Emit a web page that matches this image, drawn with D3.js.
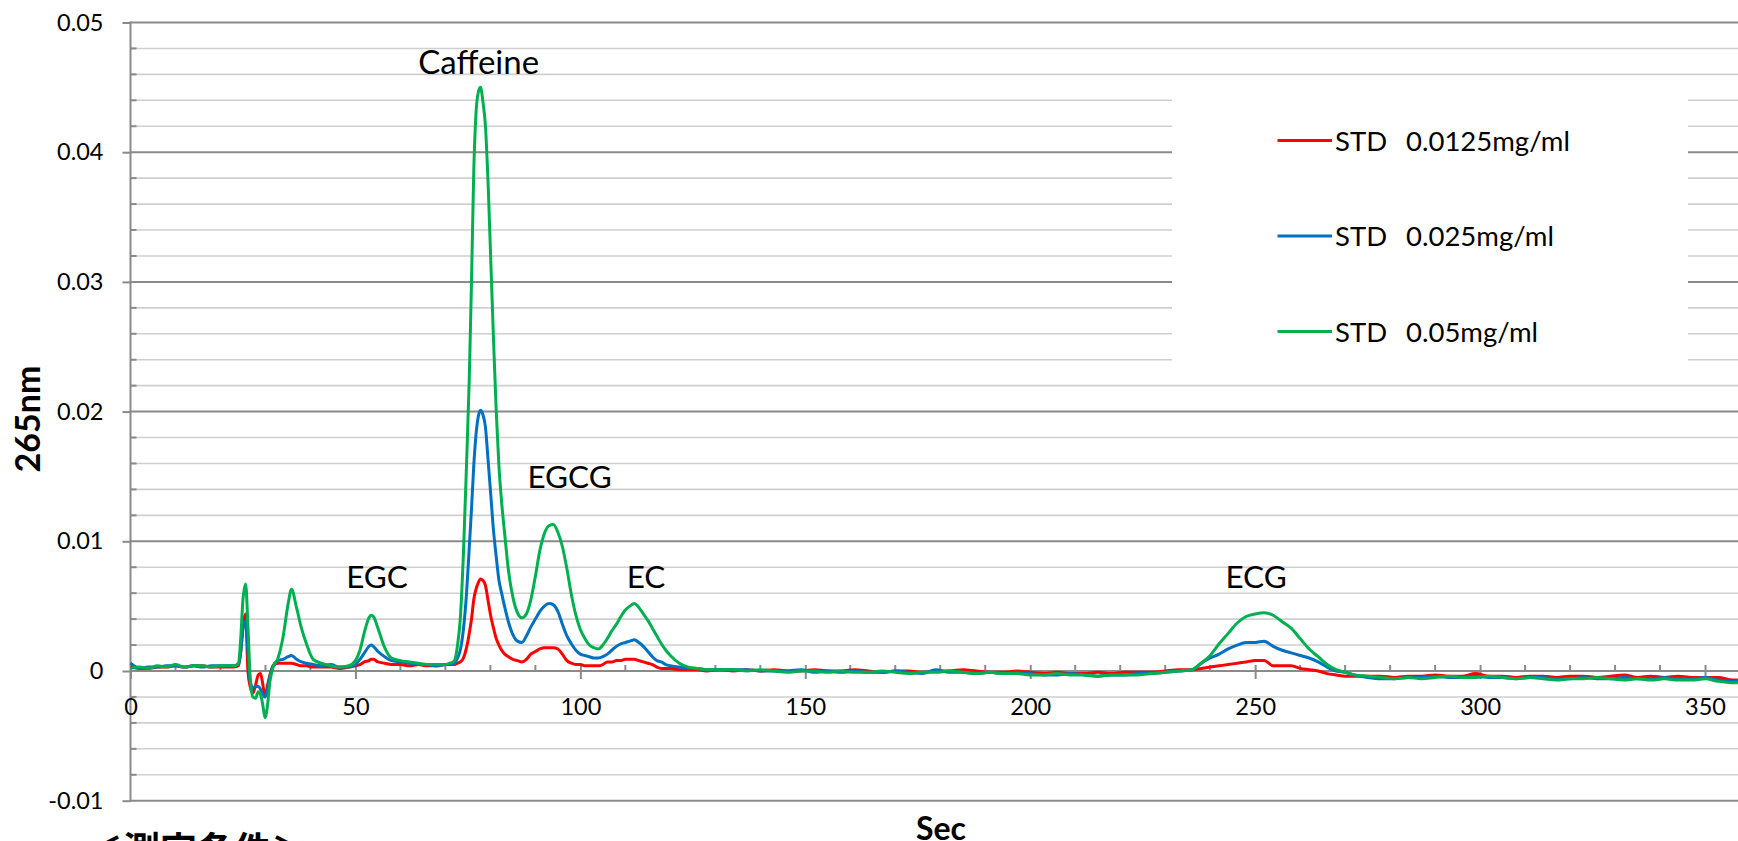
<!DOCTYPE html>
<html><head><meta charset="utf-8">
<script src="https://cdn.jsdelivr.net/npm/d3@7"></script>
<style>
html,body{margin:0;padding:0;background:#fff;overflow:hidden}
svg{display:block}
text{font-family:Lato,"Noto Sans",sans-serif;fill:#000}
</style></head><body>
<svg id="chart" width="1738" height="841"></svg>
<script>
// ---------------- DATA ----------------
const seconds = [
  0,2,4,6,8,10,12,14,16,18,20,22,
  23,24,24.5,25,25.6,26.1,26.6,27.2,27.8,28.4,28.9,29.4,29.9,30.4,31,31.7,
  32.8,33.9,35,35.8,36.9,38,39.1,40.6,42.4,44.5,46.5,48.5,50,51,52,53,53.5,54,55,56.5,58,60,62,64,66,68,70,71,72,
  72.7,73.3,74,74.7,75.3,75.8,76.3,76.8,77.3,77.8,78.3,78.9,79.5,80.1,80.7,81.3,81.9,82.5,83.2,84,85,
  86,87,88,89,90,91,92,93,94,95,96,97,98,99,100,101,102,103,104,105,106,107,108,109,110,111,112,113,114,115,116,117,118,119,120,
  122,124,126,128,
  131,134,137,140,143,146,149,152,155,158,161,164,167,170,173,176,179,182,185,188,191,194,197,200,203,206,209,212,215,218,221,224,227,230,233,
  236,238,240,242,244,246,248,250,252,254,256,258,260,262,264,266,268,270,272,275,
  278,281,284,287,290,293,296,299,302,305,308,311,314,317,320,323,326,329,332,335,338,341,344,347,350,353,356,357.3
];
const std0125 = [ // red
  .0003,.0002,.0002,.0003,.0003,.0004,.0003,.0004,.0004,.0003,.0003,.0003,
  .0003,.0004,.0015,.0035,.0044,.0000,-.0012,-.0017,-.0011,-.0003,-.0002,-.0010,-.0020,-.0012,-.0003,.0004,
  .0006,.0006,.0006,.0006,.0005,.0004,.0004,.0003,.0003,.0003,.0002,.0003,.0004,.0005,.0007,.0008,.0009,.0009,.0007,.0006,.0005,.0005,.0004,.0005,.0004,.0004,.0005,.0005,.0005,
  .0006,.0007,.0010,.0018,.0029,.0040,.0055,.0063,.0068,.0071,.0070,.0066,.0054,.0042,.0033,.0025,.0020,.0016,.0013,.0011,.0009,
  .0008,.0007,.0009,.0013,.0015,.0017,.0018,.0018,.0018,.0017,.0013,.0008,.0006,.0005,.0005,.0004,.0004,.0004,.0004,.0005,.0007,.0007,.0008,.0008,.0009,.0009,.0009,.0008,.0007,.0006,.0005,.0003,.0002,.0002,.0002,
  .0001,.0001,.0001,.0000,
  .0001,.0000,.0001,.0000,.0001,.0000,.0000,.0001,.0000,.0000,.0001,.0000,-.0001,.0000,.0000,-.0001,.0000,.0000,.0001,.0000,-.0001,-.0001,.0000,-.0001,-.0002,-.0001,-.0002,-.0002,-.0001,-.0002,-.0001,-.0001,-.0001,.0000,.0001,
  .0001,.0002,.0003,.0004,.0005,.0006,.0007,.0008,.0008,.0004,.0004,.0004,.0002,.0001,.0000,-.0002,-.0003,-.0004,-.0004,-.0004,
  -.0004,-.0005,-.0004,-.0004,-.0003,-.0004,-.0004,-.0002,-.0004,-.0004,-.0005,-.0004,-.0004,-.0005,-.0004,-.0004,-.0005,-.0004,-.0003,-.0005,-.0004,-.0005,-.0004,-.0005,-.0005,-.0005,-.0007,-.0007
];
const std025 = [ // blue
  .0006,.0002,.0003,.0003,.0004,.0004,.0003,.0004,.0003,.0004,.0004,.0004,
  .0004,.0005,.0015,.0032,.0039,.0015,-.0008,-.0013,-.0012,-.0012,-.0014,-.0018,-.0020,-.0015,-.0004,.0004,
  .0008,.0009,.0011,.0012,.0009,.0007,.0006,.0005,.0004,.0005,.0003,.0003,.0005,.0009,.0014,.0019,.0020,.0019,.0015,.0011,.0008,.0007,.0006,.0005,.0005,.0004,.0005,.0005,.0006,
  .0010,.0016,.0032,.0060,.0095,.0125,.0158,.0182,.0196,.0201,.0198,.0188,.0162,.0135,.0108,.0088,.0070,.0060,.0049,.0038,.0028,
  .0023,.0022,.0027,.0034,.0040,.0046,.0050,.0052,.0051,.0046,.0036,.0027,.0021,.0016,.0013,.0012,.0011,.0010,.0010,.0011,.0013,.0016,.0019,.0021,.0022,.0023,.0024,.0022,.0019,.0015,.0011,.0008,.0007,.0005,.0004,
  .0003,.0002,.0002,.0001,
  .0001,.0001,.0001,.0000,.0000,.0000,.0001,-.0001,.0000,-.0001,.0000,-.0001,-.0001,.0000,-.0001,-.0002,.0001,-.0001,-.0001,-.0002,-.0001,-.0002,-.0001,-.0002,-.0003,-.0003,-.0002,-.0003,-.0004,-.0003,-.0003,-.0002,-.0002,-.0001,.0000,
  .0001,.0006,.0010,.0013,.0017,.0020,.0022,.0022,.0023,.0019,.0016,.0014,.0012,.0010,.0007,.0003,.0000,-.0001,-.0003,-.0005,
  -.0006,-.0006,-.0005,-.0005,-.0004,-.0005,-.0005,-.0004,-.0005,-.0005,-.0006,-.0005,-.0005,-.0006,-.0006,-.0005,-.0006,-.0006,-.0005,-.0006,-.0006,-.0005,-.0006,-.0006,-.0005,-.0007,-.0008,-.0008
];
const std05 = [ // green
  .0002,.0003,.0002,.0004,.0003,.0005,.0003,.0004,.0004,.0003,.0004,.0004,
  .0004,.0006,.0025,.0055,.0067,.0035,-.0005,-.0020,-.0021,-.0016,-.0018,-.0026,-.0036,-.0028,-.0008,.0003,
  .0010,.0026,.0051,.0063,.0049,.0033,.0021,.0009,.0006,.0004,.0003,.0004,.0008,.0016,.0030,.0041,.0043,.0042,.0033,.0018,.0010,.0008,.0007,.0006,.0005,.0005,.0005,.0006,.0008,
  .0020,.0040,.0090,.0160,.0225,.0300,.0385,.0430,.0446,.0450,.0440,.0420,.0375,.0315,.0255,.0200,.0158,.0130,.0105,.0078,.0057,
  .0045,.0041,.0044,.0055,.0073,.0093,.0106,.0112,.0113,.0107,.0096,.0079,.0059,.0043,.0032,.0025,.0020,.0018,.0017,.0020,.0025,.0031,.0036,.0042,.0047,.0050,.0052,.0049,.0044,.0039,.0033,.0027,.0021,.0016,.0012,
  .0006,.0003,.0002,.0001,
  .0001,.0001,.0000,.0001,.0000,-.0001,.0000,.0000,-.0001,.0000,-.0001,-.0001,.0000,-.0001,-.0002,-.0001,-.0001,.0000,-.0001,-.0002,-.0001,-.0002,-.0002,-.0003,-.0003,-.0002,-.0003,-.0003,-.0004,-.0003,-.0003,-.0003,-.0002,-.0001,.0000,
  .0001,.0006,.0012,.0021,.0029,.0037,.0042,.0044,.0045,.0043,.0038,.0033,.0025,.0017,.0011,.0005,.0001,-.0001,-.0003,-.0004,
  -.0005,-.0006,-.0005,-.0006,-.0005,-.0004,-.0005,-.0005,-.0004,-.0005,-.0006,-.0005,-.0006,-.0007,-.0006,-.0006,-.0005,-.0006,-.0007,-.0006,-.0007,-.0006,-.0007,-.0007,-.0006,-.0008,-.0009,-.0009
];
const seriesNames = ["STD", "STD", "STD"];
const seriesConc = ["0.0125mg/ml", "0.025mg/ml", "0.05mg/ml"];
const seriesColors = ["#ff0000", "#0070c0", "#00b050"];

const yTickValues = [-0.01, 0, 0.01, 0.02, 0.03, 0.04, 0.05];
const yTickLabels = ["-0.01", "0", "0.01", "0.02", "0.03", "0.04", "0.05"];
const xTickValues = [0, 50, 100, 150, 200, 250, 300, 350];
const xTickLabels = ["0", "50", "100", "150", "200", "250", "300", "350"];

const peakNames = ["EGC", "Caffeine", "EGCG", "EC", "ECG"];
const peakLabelTime = [54.8, 77.4, 97.6, 114.6, 250.2];
const peakLabelValue = [0.0064, 0.0460, 0.0141, 0.0064, 0.0064];

const yTitle = "265nm";
const xTitle = "Sec";
const noteText = "＜測定条件＞";

// ---------------- CHART ----------------
const svg = d3.select("#chart");
const xMaxShown = 357.33;
const x = d3.scaleLinear().domain([0, xMaxShown]).range([130.5, 1738]);
const y = d3.scaleLinear().domain([-0.01, 0.05]).range([800.7, 22.5]);
const x0 = x(0), x1 = 1738;

const gridMinor = d3.range(-0.01, 0.0501, 0.002).map(v => +v.toFixed(4))
  .filter(v => Math.abs(Math.round(v*100) - v*100) > 1e-6);
// minor gridlines
svg.append("g").selectAll("line").data(gridMinor)
  .join("line")
  .attr("x1", x0).attr("x2", x1)
  .attr("y1", d => y(d)).attr("y2", d => y(d))
  .attr("stroke", "#cfcfcf").attr("stroke-width", 1.6);
// major gridlines
svg.append("g").selectAll("line").data(yTickValues)
  .join("line")
  .attr("x1", x0).attr("x2", x1)
  .attr("y1", d => y(d)).attr("y2", d => y(d))
  .attr("stroke", "#8a8a8a").attr("stroke-width", 2);

// legend background (hides gridlines)
svg.append("rect").attr("x", 1172).attr("y", 88).attr("width", 516).attr("height", 283).attr("fill", "#fff");

// Y axis
const yAxis = d3.axisLeft(y).tickValues(yTickValues)
  .tickFormat((d, i) => yTickLabels[i]).tickSize(8).tickPadding(19);
const gy = svg.append("g").attr("transform", `translate(${x0},0)`).call(yAxis);
gy.select(".domain").remove();
gy.selectAll(".tick line").attr("stroke", "#8a8a8a").attr("stroke-width", 2);
gy.selectAll(".tick text").style("font-size", "23.5px").style("font-family", "Lato").attr("fill", "#222");
svg.append("line").attr("x1", x0).attr("x2", x0).attr("y1", y(0.05) - 1).attr("y2", y(-0.01) + 1)
  .attr("stroke", "#8a8a8a").attr("stroke-width", 2);
// minor y ticks (inside)
svg.append("g").selectAll("line").data(gridMinor)
  .join("line")
  .attr("x1", x0).attr("x2", x0 + 6)
  .attr("y1", d => y(d)).attr("y2", d => y(d))
  .attr("stroke", "#8a8a8a").attr("stroke-width", 2);

// X axis at y = 0
const xAxis = d3.axisBottom(x).tickValues(xTickValues)
  .tickFormat((d, i) => xTickLabels[i]).tickSize(8).tickPadding(19.5);
const gx = svg.append("g").attr("transform", `translate(0,${y(0)})`).call(xAxis);
gx.select(".domain").remove();
gx.selectAll(".tick line").attr("y1", -6).attr("y2", 8).attr("stroke", "#8a8a8a").attr("stroke-width", 2);
gx.selectAll(".tick text").style("font-size", "23.5px").style("font-family", "Lato").attr("fill", "#222");
const xMinor = d3.range(10, xMaxShown, 10).filter(t => t % 50 !== 0);
svg.append("g").selectAll("line").data(xMinor).join("line")
  .attr("x1", d => x(d)).attr("x2", d => x(d))
  .attr("y1", y(0) - 6).attr("y2", y(0))
  .attr("stroke", "#8a8a8a").attr("stroke-width", 2);

// Series
const allSeries = [std0125, std025, std05];
const line = d3.line().x(d => x(d[0])).y(d => y(d[1])).curve(d3.curveMonotoneX);
allSeries.forEach((vals, i) => {
  const pts = seconds.map((t, k) => [t, vals[k]]);
  svg.append("path").datum(pts)
    .attr("d", line)
    .attr("fill", "none")
    .attr("stroke", seriesColors[i])
    .attr("stroke-width", 3)
    .attr("stroke-linejoin", "round");
});

// Peak annotations
svg.append("g").selectAll("text").data(peakNames).join("text")
  .attr("x", (d, i) => x(peakLabelTime[i]))
  .attr("y", (d, i) => y(peakLabelValue[i]))
  .attr("text-anchor", "middle")
  .style("font-size", (d) => d === "Caffeine" ? "33px" : "31.5px")
  .text(d => d);

// Legend
const legendY = [140.5, 236, 331.5];
const lg = svg.append("g");
seriesNames.forEach((name, i) => {
  lg.append("line").attr("x1", 1277.5).attr("x2", 1332).attr("y1", legendY[i]).attr("y2", legendY[i])
    .attr("stroke", seriesColors[i]).attr("stroke-width", 3);
  const t = lg.append("text").attr("y", legendY[i] + 10).style("font-size", "27.5px").attr("fill", "#111");
  t.append("tspan").attr("x", 1335).text(name);
  t.append("tspan").attr("x", 1406).text(seriesConc[i]);
});

// Axis titles
svg.append("text").attr("transform", `translate(40,${419}) rotate(-90)`)
  .attr("text-anchor", "middle").style("font-size", "34px").style("font-weight", "bold").text(yTitle);
svg.append("text").attr("x", 941).attr("y", 840).attr("text-anchor", "middle")
  .style("font-size", "32px").style("font-weight", "bold").text(xTitle);

// cut-off note (only the top of it lies inside the picture)
svg.append("text").attr("x", 86).attr("y", 864)
  .style("font-family", "'Noto Sans CJK JP'").style("font-size", "37px").style("font-weight", "bold").text(noteText);
</script>
</body></html>
